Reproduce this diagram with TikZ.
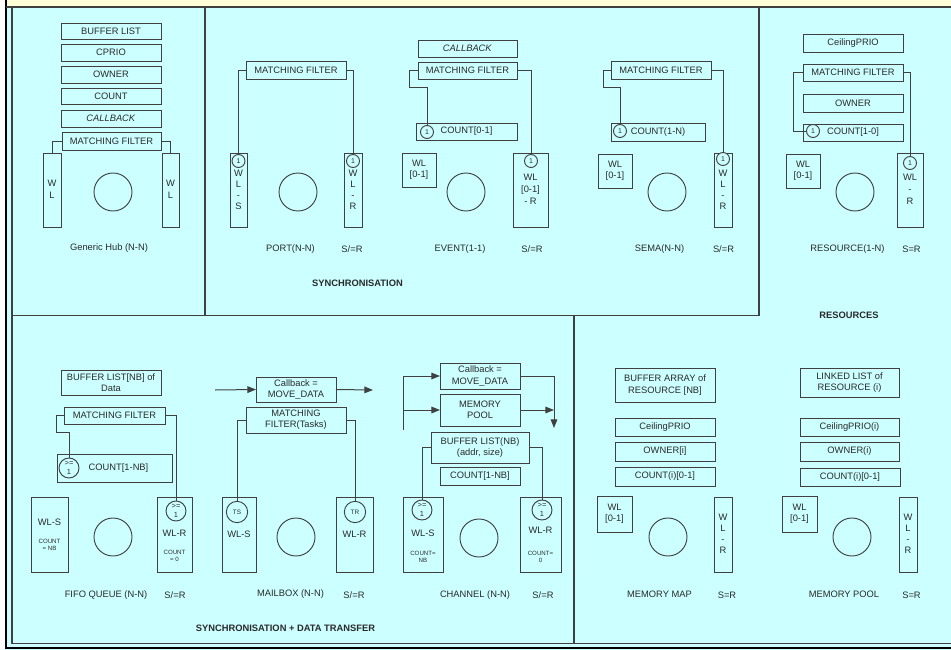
\documentclass[tikz,border=0pt]{standalone}
\usepackage{fontspec}
\setmainfont{Liberation Sans}
\usetikzlibrary{fit,arrows.meta}
\definecolor{bg}{HTML}{CCFFFF}
\definecolor{ln}{HTML}{404040}
\definecolor{strip}{HTML}{FFFFD8}
\definecolor{txt}{HTML}{2A2A2A}
\begin{document}
\begin{tikzpicture}[x=0.75pt,y=-0.75pt,
  every node/.style={font=\fontsize{7}{8.4}\selectfont,text=txt,align=center,inner sep=0pt,outer sep=0pt},
  box/.style={draw=ln,line width=0.75pt,rectangle},
  big/.style={circle,draw=ln,line width=0.7pt,minimum size=28.5pt},
  one/.style={circle,draw=ln,fill=bg,line width=0.7pt,minimum size=9.75pt,font=\fontsize{5.2}{6}\selectfont},
  ge/.style={circle,draw=ln,fill=bg,line width=0.7pt,minimum size=15pt,font=\fontsize{5.6}{7}\selectfont},
  tsc/.style={circle,draw=ln,fill=bg,line width=0.7pt,minimum size=16pt,font=\fontsize{4.8}{5}\selectfont},
  vtext/.style={font=\fontsize{7}{9}\selectfont},
  vtextf/.style={font=\fontsize{7}{8.3}\selectfont},
  small/.style={font=\fontsize{4.6}{5.4}\selectfont},
  title/.style={font=\fontsize{7}{8}\selectfont\bfseries},
  conn/.style={draw=ln,line width=0.75pt},
  arr/.style={conn,-{Triangle[length=6.5pt,width=5pt]}},
  panel/.style={draw=ln,line width=1.1pt},
  outer/.style={draw=black,line width=1.8pt}]
\useasboundingbox (0,0) rectangle (951,650);
\fill[bg] (0,0) rectangle (951,650);
\fill[strip] (6,0) rectangle (951,7);
\fill[white] (0,0) rectangle (5,650);
% frame
\draw[outer] (6,0) -- (6,648) -- (951,648);
\draw[panel] (6,7) -- (951,7);
\draw[panel] (12,7.5) -- (12,643.5) -- (951,643.5);
\draw[panel] (205,7.5) -- (205,315.5);
\draw[panel] (759,7.5) -- (759,315.5);
\draw[panel] (12,315.5) -- (759,315.5);
\draw[panel] (574,315.5) -- (574,643.5);

% ---------- Generic hub
\node[box,fit={(61,23)(161,39)},label=center:{BUFFER LIST}] (gbl) {};
\node[box,fit={(61,44)(161,61)},label=center:{CPRIO}] (gcp) {};
\node[box,fit={(61,66)(161,83)},label=center:{OWNER}] (gow) {};
\node[box,fit={(61,88)(161,104)},label=center:{COUNT}] (gco) {};
\node[box,fit={(61,110)(161,127)},label=center:{\textit{CALLBACK}}] (gcb) {};
\node[box,fit={(62,132)(161,150)},label=center:{MATCHING FILTER}] (gmf) {};
\node[box,fit={(43,153)(61,227)}] (gwl1) {};
\node[box,fit={(162,153)(179,227)}] (gwl2) {};
\node[vtext] (gwl1t) at (52,189) {W\\L};
\node[vtext] (gwl2t) at (170.5,189) {W\\L};
\node[big] (gc) at (113,192) {};
\node (glab) at (109,248) {Generic Hub (N-N)};
\draw[conn] (gmf.west) -| (gwl1.north);
\draw[conn] (gmf.east) -| (gwl2.north);

% ---------- Port
\node[box,fit={(246,61)(346,79)},label=center:{MATCHING FILTER}] (pmf) {};
\node[box,fit={(230,153)(247,227)}] (pws) {};
\node[box,fit={(344,153)(362,227)}] (pwr) {};
\node[one] (pc1) at (238.5,161) {1};
\node[one] (pc2) at (353,161) {1};
\node[vtextf] (pwst) at (238.5,190) {W\\L\\-\\S};
\node[vtextf] (pwrt) at (353,190) {W\\L\\-\\R};
\node[big] (pc) at (298,192) {};
\node (plab) at (290.5,249) {PORT(N-N)};
\node (psr) at (352,249) {S/=R};
\draw[conn] (pmf.west) -| (pc1.north);
\draw[conn] (pmf.east) -| (pc2.north);
\node[title] (sync) at (357.5,283) {SYNCHRONISATION};

% ---------- Event
\node[box,fit={(418,40)(517,57)},label=center:{\textit{CALLBACK}}] (ecb) {};
\node[box,fit={(418,62)(517,79)},label=center:{MATCHING FILTER}] (emf) {};
\node[box,fit={(416,123)(517,140)},label=center:{COUNT[0-1]}] (eco) {};
\node[one] (ec1) at (427,132) {1};
\node[box,fit={(402,153)(436,187)},label=center:{WL\\{}[0-1]}] (ewl) {};
\node[box,fit={(513,153)(548,227)}] (ewr) {};
\node[one] (ec2) at (531,161) {1};
\node[vtext] (ewrt) at (530.5,189) {WL\\{}[0-1]\\- R};
\node[big] (ec) at (466,192) {};
\node (elab) at (460,249) {EVENT(1-1)};
\node (esr) at (532,249) {S/=R};
\draw[conn] (emf.west) -- ++(-9,0) -- ++(0,17) -| (ec1.north);
\draw[conn] (emf.east) -| (ec2.north);

% ---------- Sema
\node[box,fit={(611,61)(711,79)},label=center:{MATCHING FILTER}] (smf) {};
\node[box,fit={(611,123)(705,141)},label=center:{COUNT(1-N)}] (sco) {};
\node[one] (sc1) at (620,131) {1};
\node[box,fit={(598,154)(632,188)},label=center:{WL\\{}[0-1]}] (swl) {};
\node[box,fit={(714,153)(732,227)}] (swr) {};
\node[one] (sc2) at (723,159) {1};
\node[vtextf] (swrt) at (723,190) {W\\L\\-\\R};
\node[big] (sc) at (667,192) {};
\node (slab) at (659.5,249) {SEMA(N-N)};
\node (ssr) at (723.5,249) {S/=R};
\draw[conn] (smf.west) -- ++(-8,0) -- ++(0,17) -| (sc1.north);
\draw[conn] (smf.east) -| (sc2.north);

% ---------- Resource
\node[box,fit={(803,34)(903,52)},label=center:{CeilingPRIO}] (rcp) {};
\node[box,fit={(803,64)(903,81)},label=center:{MATCHING FILTER}] (rmf) {};
\node[box,fit={(803,94)(903,112)},label=center:{OWNER}] (row) {};
\node[box,fit={(803,124)(903,141)},label=center:{COUNT[1-0]}] (rco) {};
\node[one] (rc1) at (813,131) {1};
\node[box,fit={(786,154)(820,188)},label=center:{WL\\{}[0-1]}] (rwl) {};
\node[box,fit={(897,153)(923,227)}] (rwr) {};
\node[one] (rc2) at (910,163) {1};
\node[vtext] (rwrt) at (910,189) {WL\\-\\R};
\node[big] (rc) at (855,192) {};
\node (rlab) at (847.5,249) {RESOURCE(1-N)};
\node (rsr) at (911.5,249) {S=R};
\draw[conn] (rmf.west) -- ++(-10,0) |- (rc1.west);
\draw[conn] (rmf.east) -| (rc2.north);
\node[title] (res) at (849,315) {RESOURCES};

% ---------- FIFO
\node[box,fit={(61,370)(161,395)},label=center:{BUFFER LIST[NB] of\\Data}] (fbl) {};
\node[box,fit={(64,407)(165,424)},label=center:{MATCHING FILTER}] (fmf) {};
\node[box,fit={(57,454)(172,482)},label=center:{\hspace*{6pt}COUNT[1-NB]}] (fco) {};
\node[ge] (fc1) at (69,468) {>=\\1};
\node[box,fit={(31,497)(68,572)}] (fws) {};
\node[box,fit={(157,497)(192,572)}] (fwr) {};
\node[ge] (fc2) at (176,511) {>=\\1};
\node (fwst) at (49.5,522) {WL-S};
\node[small] (fwsc) at (49.5,544.5) {COUNT\\= NB};
\node (fwrt) at (174.5,533) {WL-R};
\node[small] (fwrc) at (174.5,555.5) {COUNT\\= 0};
\node[big] (fc) at (113,537) {};
\node (flab) at (106,595) {FIFO QUEUE (N-N)};
\node (fsr) at (175,595) {S/=R};
\draw[conn] (fmf.west) -- ++(-8,0) -- ++(0,17) -| (fc1.north);
\draw[conn] (fmf.east) -| (fc2.north);
\node[title] (sdt) at (285.5,628) {SYNCHRONISATION + DATA TRANSFER};

% ---------- Mailbox
\node[box,fit={(256,377)(336,402)},label=center:{Callback =\\MOVE\_DATA}] (mcb) {};
\node[box,fit={(246,407)(346,433)},label=center:{MATCHING\\FILTER(Tasks)}] (mmf) {};
\node[box,fit={(222,497)(256,572)}] (mws) {};
\node[box,fit={(336,497)(373,572)}] (mwr) {};
\node[tsc] (mts) at (237,512) {TS};
\node[tsc] (mtr) at (355,512) {TR};
\node (mwst) at (239,534) {WL-S};
\node (mwrt) at (354.5,534) {WL-R};
\node[big] (mc) at (296,537) {};
\node (mlab) at (290.5,594) {MAILBOX (N-N)};
\node (msr) at (354,595) {S/=R};
\coordinate (min) at (215,390);
\coordinate (mout) at (373,390);
\draw[arr] (min) -- (mcb.west);
\draw[arr] (mcb.east) -- (mout);
\draw[conn] (mmf.west) -| (mts.north);
\draw[conn] (mmf.east) -| (mtr.north);

% ---------- Channel
\node[box,fit={(440,363)(520,389)},label=center:{Callback =\\MOVE\_DATA}] (ccb) {};
\node[box,fit={(440,394)(520,426)},label=center:{MEMORY\\POOL}] (cmp) {};
\node[box,fit={(431,432)(529,463)},label=center:{BUFFER LIST(NB)\\(addr, size)}] (cbl) {};
\node[box,fit={(440,467)(520,485)},label=center:{COUNT[1-NB]}] (cco) {};
\node[box,fit={(403,497)(443,572)}] (cws) {};
\node[box,fit={(520,497)(561,572)}] (cwr) {};
\node[ge] (cc1) at (422,510) {>=\\1};
\node[ge] (cc2) at (542,510) {>=\\1};
\node (cwst) at (423,533) {WL-S};
\node[small] (cwsc) at (423,556.5) {COUNT=\\NB};
\node (cwrt) at (540.5,530) {WL-R};
\node[small] (cwrc) at (540.5,556.5) {COUNT=\\0};
\node[big] (cc) at (479,538) {};
\node (clab) at (475,595) {CHANNEL (N-N)};
\node (csr) at (543,595) {S/=R};
\coordinate (ctop) at (403,376);
\coordinate (cbot) at (403,430);
\coordinate (cend) at (554,428);
\draw[conn] (cbot) -- (ctop);
\draw[arr] (ctop) -- (ccb.west);
\draw[arr] (ctop |- cmp.west) -- (cmp.west);
\draw[arr] (ccb.east) -| (cend);
\draw[arr] (cmp.east) -- (cmp.east -| cend);
\draw[conn] (cbl.west) -| (cc1.north);
\draw[conn] (cbl.east) -| (cc2.north);

% ---------- Memory map
\node[box,fit={(615,368)(715,402)},label=center:{BUFFER ARRAY of\\RESOURCE [NB]}] (abuf) {};
\node[box,fit={(615,418)(715,436)},label=center:{CeilingPRIO}] (acp) {};
\node[box,fit={(615,442)(715,461)},label=center:{OWNER[i]}] (aow) {};
\node[box,fit={(615,467)(715,486)},label=center:{COUNT(i)[0-1]}] (aco) {};
\node[box,fit={(597,496)(632,532)},label=center:{WL\\{}[0-1]}] (awl) {};
\node[box,fit={(714,497)(732,572)}] (awr) {};
\node[vtextf] (awrt) at (723,534) {W\\L\\-\\R};
\node[big] (ac) at (668,537) {};
\node (alab) at (659.5,594) {MEMORY MAP};
\node (asr) at (727,595) {S=R};

% ---------- Memory pool
\node[box,fit={(800,368)(899,397)},label=center:{LINKED LIST of\\RESOURCE (i)}] (lbuf) {};
\node[box,fit={(800,418)(899,436)},label=center:{CeilingPRIO(i)}] (lcp) {};
\node[box,fit={(800,442)(899,461)},label=center:{OWNER(i)}] (low) {};
\node[box,fit={(800,468)(900,486)},label=center:{COUNT(i)[0-1]}] (lco) {};
\node[box,fit={(782,496)(817,532)},label=center:{WL\\{}[0-1]}] (lwl) {};
\node[box,fit={(899,497)(917,572)}] (lwr) {};
\node[vtextf] (lwrt) at (908,534) {W\\L\\-\\R};
\node[big] (lc) at (852,537) {};
\node (llab) at (844,594) {MEMORY POOL};
\node (lsr) at (911.5,595) {S=R};
\end{tikzpicture}
\end{document}
